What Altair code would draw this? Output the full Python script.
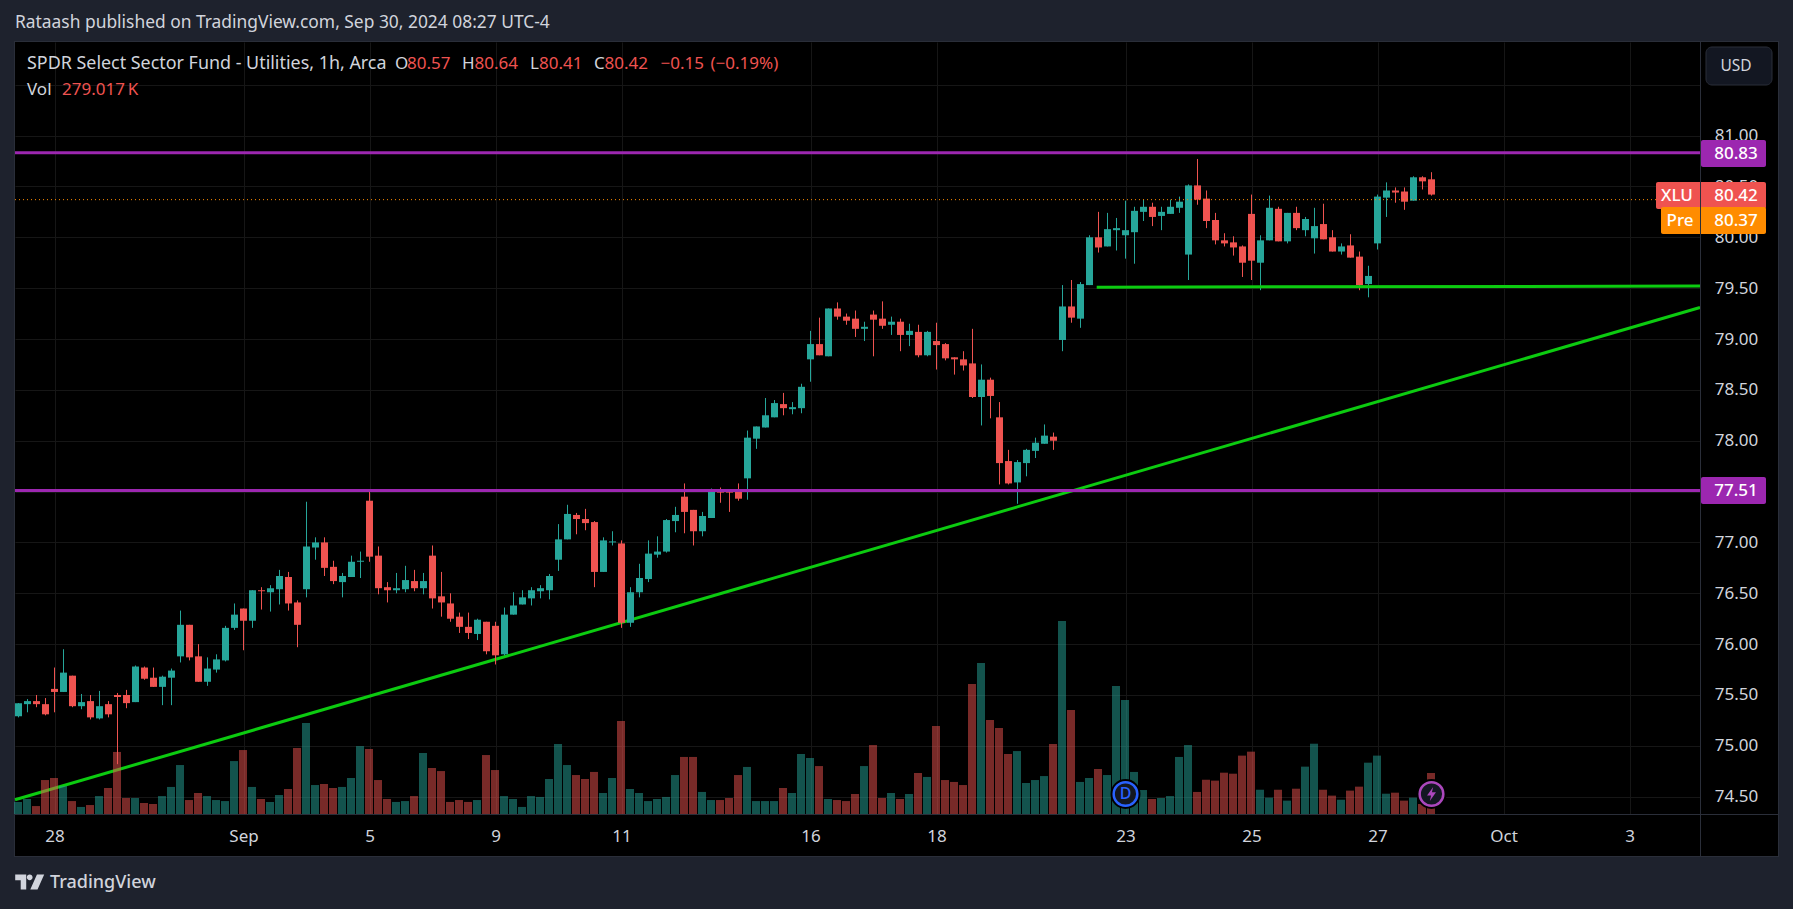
import altair as alt
import pandas as pd

opens = [75.29,75.41,75.44,75.41,75.56,75.53,75.69,75.39,75.44,75.27,
75.41,75.50,75.50,75.43,75.77,75.67,75.58,75.67,75.88,76.19,
75.88,75.63,75.75,75.84,76.16,76.35,76.23,76.53,76.51,76.54,
76.66,76.41,76.54,76.95,77.00,76.76,76.61,76.66,76.81,77.41,
76.87,76.56,76.53,76.54,76.62,76.55,76.87,76.47,76.40,76.27,
76.17,76.10,76.22,76.18,75.90,76.29,76.39,76.45,76.52,76.53,
76.83,77.03,77.27,77.23,77.20,76.71,77.00,76.99,76.21,76.51,
76.64,76.88,76.91,77.21,77.45,77.32,77.11,77.24,77.50,77.50,
77.51,77.63,78.02,78.13,78.23,78.36,78.31,78.32,78.80,78.95,
78.83,79.30,79.22,79.20,79.10,79.24,79.20,79.14,79.17,79.04,
79.07,78.84,78.98,78.95,78.82,78.80,78.76,78.43,78.60,78.23,
77.80,77.59,77.78,77.90,77.97,78.04,78.99,79.32,79.20,79.53,
80.00,79.91,80.07,80.02,80.05,80.25,80.30,80.21,80.23,80.29,
79.83,80.51,80.38,80.17,79.97,79.95,79.91,80.23,79.75,79.97,
80.28,79.96,80.24,80.07,79.99,80.13,80.00,79.86,79.92,79.81,
79.54,79.94,80.39,80.46,80.45,80.36,80.59,80.57]

closes = [75.42,75.44,75.41,75.31,75.53,75.72,75.39,75.43,75.28,75.39,
75.31,75.48,75.42,75.78,75.66,75.58,75.68,75.74,76.19,75.87,
75.63,75.76,75.85,76.16,76.29,76.23,76.53,76.52,76.55,76.67,
76.40,76.19,76.96,77.00,76.75,76.62,76.67,76.81,76.82,76.86,
76.55,76.53,76.55,76.63,76.55,76.62,76.45,76.41,76.25,76.17,
76.11,76.24,75.93,75.89,76.29,76.38,76.46,76.53,76.55,76.67,
77.03,77.28,77.23,77.19,76.71,77.02,77.01,76.21,76.51,76.65,
76.89,76.91,77.22,77.27,77.30,77.11,77.26,77.50,77.49,77.49,
77.43,78.03,78.14,78.25,78.37,78.32,78.33,78.53,78.95,78.84,
79.30,79.22,79.18,79.10,79.12,79.19,79.13,79.17,79.04,79.08,
78.84,79.07,78.94,78.81,78.80,78.74,78.43,78.60,78.44,77.78,
77.58,77.79,77.91,77.98,78.05,78.00,79.32,79.21,79.54,80.00,
79.90,80.08,80.09,80.07,80.26,80.30,80.20,80.25,80.30,80.35,
80.51,80.37,80.16,79.97,79.94,79.90,79.75,79.77,79.97,80.29,
79.96,80.24,80.09,80.18,80.11,79.98,79.86,79.91,79.80,79.53,
79.62,80.40,80.46,80.44,80.35,80.59,80.55,80.42]

highs = [75.42,75.46,75.50,75.47,75.77,75.95,75.69,75.51,75.50,75.54,
75.44,75.52,75.55,75.79,75.78,75.77,75.69,75.76,76.33,76.19,
76.00,75.87,75.90,76.18,76.40,76.35,76.53,76.56,76.58,76.73,
76.71,76.43,77.40,77.05,77.05,76.82,76.70,76.87,76.91,77.51,
76.96,76.61,76.70,76.77,76.73,76.70,76.97,76.71,76.50,76.31,
76.31,76.25,76.22,76.22,76.36,76.51,76.53,76.56,76.58,76.69,
77.18,77.37,77.29,77.33,77.21,77.05,77.11,77.02,76.56,76.79,
77.02,77.06,77.23,77.35,77.58,77.32,77.30,77.53,77.54,77.51,
77.58,78.10,78.14,78.42,78.40,78.47,78.38,78.56,79.08,79.21,
79.30,79.36,79.25,79.28,79.17,79.28,79.37,79.22,79.20,79.15,
79.14,79.08,79.16,78.96,78.82,78.88,79.10,78.75,78.62,78.38,
77.91,77.81,77.92,78.03,78.16,78.08,79.53,79.58,79.56,80.02,
80.25,80.24,80.19,80.36,80.30,80.37,80.34,80.30,80.37,80.40,
80.52,80.77,80.46,80.24,80.04,80.01,79.92,80.42,80.02,80.41,
80.30,80.24,80.30,80.20,80.29,80.33,80.07,79.94,80.03,79.86,
79.72,80.42,80.54,80.49,80.49,80.60,80.60,80.64]

lows = [75.28,75.33,75.38,75.30,75.33,75.53,75.38,75.36,75.26,75.26,
75.28,74.82,75.37,75.43,75.65,75.58,75.40,75.40,75.82,75.84,
75.63,75.59,75.72,75.83,76.14,75.94,76.16,76.34,76.32,76.39,
76.33,75.97,76.46,76.83,76.67,76.59,76.46,76.66,76.65,76.81,
76.49,76.41,76.50,76.51,76.52,76.49,76.35,76.27,76.22,76.11,
76.05,76.04,75.90,75.80,75.89,76.29,76.39,76.38,76.45,76.44,
76.72,77.03,77.08,77.12,76.56,76.71,76.97,76.16,76.17,76.46,
76.61,76.85,76.90,77.10,77.09,76.97,77.06,77.24,77.39,77.30,
77.41,77.42,77.92,78.13,78.23,78.25,78.26,78.27,78.58,78.84,
78.83,79.19,79.14,79.02,78.98,78.83,79.10,79.04,78.88,78.93,
78.82,78.83,78.70,78.79,78.65,78.69,78.42,78.15,78.22,77.57,
77.57,77.38,77.65,77.83,77.97,77.91,78.88,79.16,79.11,79.53,
79.85,79.91,79.87,79.79,79.74,80.16,80.11,80.07,80.23,80.24,
79.58,80.32,80.09,79.93,79.91,79.82,79.61,79.58,79.48,79.97,
79.96,79.94,80.07,80.01,79.84,79.98,79.86,79.83,79.80,79.48,
79.41,79.88,80.20,80.34,80.27,80.36,80.47,80.41]

volumes_k = [82,102,54,231,245,190,88,48,61,122,
177,422,109,109,75,68,122,184,333,95,
143,122,95,88,360,435,184,102,82,129,
170,449,619,197,204,177,184,245,462,442,
231,102,82,88,122,415,313,292,82,95,
82,95,401,299,122,102,48,122,116,238,
476,333,265,238,286,143,245,632,170,143,
88,102,116,265,388,388,150,95,95,109,
265,320,88,88,88,177,143,408,381,326,
102,95,88,136,326,469,109,143,102,136,
279,252,598,231,218,197,884,1027,639,585,
408,428,211,231,258,476,1312,707,218,245,
306,265,870,775,286,163,102,109,122,388,
469,150,233,227,281,274,397,424,165,111,
165,91,172,322,478,165,125,97,159,186,
349,397,138,145,91,111,68,279]

price_ticks = [74.5,75.0,75.5,76.0,76.5,77.0,77.5,78.0,78.5,79.0,79.5,80.0,80.5,81.0,81.5]
date_ticks = [4,25,39,53,67,88,102,123,137,151,165,179]
date_labels = ["28","Sep","5","9","11","16","18","23","25","27","Oct","3"]
resistance_levels = [80.83,77.51]
premarket_level = [80.37]
trend_bars = [-0.389,186.833]
trend_prices = [74.47,79.31]
support_bars = [119.8,186.833]
support_prices = [79.51,79.52]

X_DOM = [-0.3889,186.8333]
Y_DOM = [74.33,81.92]
VOL_DOM = [0,5250]
FONT = "Noto Sans"
TEXT = "#d1d4dc"
RED = "#ef5350"
TEAL = "#26a69a"
PURPLE = "#9c27b0"
GREEN = "#0ccb10"
ORANGE = "#ff8c00"
PANEL = "#1e222d"
EDGE = "#2a2e39"
GRID = "#161616"
L, T = 15, 42

df = pd.DataFrame({"bar":range(len(opens)),"open":opens,"high":highs,"low":lows,"close":closes,"volume":volumes_k})
df["dir"] = ["up" if c>=o else "down" for o,c in zip(opens,closes)]
df["top"] = df[["open","close"]].max(axis=1)
df["bot"] = df[["open","close"]].min(axis=1)

xs = alt.Scale(domain=X_DOM,nice=False,zero=False,padding=0)
ys = alt.Scale(domain=Y_DOM,nice=False,zero=False)
vs = alt.Scale(domain=VOL_DOM,nice=False,zero=False)
one = pd.DataFrame({"a":[0]})
label_expr = f"{date_labels}[indexof({date_ticks},datum.value)]"
x_axis = alt.Axis(values=date_ticks,labelExpr=label_expr,grid=True,gridColor=GRID,
        domain=False,ticks=False,labelColor=TEXT,labelFont=FONT,labelFontSize=17,labelPadding=22,labelBaseline="middle",
        labelOverlap=False,labelFlush=False,labelBound=False,title=None)
xn = alt.X("bar:Q",scale=xs,axis=x_axis)
col = alt.Color("dir:N",scale=alt.Scale(domain=["up","down"],range=[TEAL,RED]),legend=None)

def rect(x1,y1,x2,y2,fill,**kw):
    return alt.Chart(one).mark_rect(fill=fill,**kw).encode(
        x=alt.value(x1-L),x2=alt.value(x2-L),y=alt.value(y1-T),y2=alt.value(y2-T))

def text(x,y,s,color=TEXT,size=17,align="left",weight=400):
    return alt.Chart(one).mark_text(text=s,color=color,fontSize=size,align=align,baseline="middle",font=FONT,fontWeight=weight).encode(
        x=alt.value(x-L),y=alt.value(y-T))

def glyph(x,y,shape,size,color):
    return alt.Chart(one).mark_point(shape=shape,size=size,filled=True,fill=color,opacity=1).encode(
        x=alt.value(x-L),y=alt.value(y-T))

def ring(x,y,size,fill,stroke,sw):
    return alt.Chart(one).mark_circle(size=size,fill=fill,stroke=stroke,strokeWidth=sw,opacity=1).encode(
        x=alt.value(x-L),y=alt.value(y-T))

trend_df = pd.DataFrame({"bar":trend_bars,"price":trend_prices})
trend = alt.Chart(trend_df).mark_line(color=GREEN,strokeWidth=3).encode(
    x=xn,
    y=alt.Y("price:Q",scale=ys,axis=alt.Axis(orient="right",values=price_ticks,format=".2f",grid=True,gridColor=GRID,
        domain=False,ticks=False,labelColor=TEXT,labelFont=FONT,labelFontSize=17,labelPadding=36,labelAlign="center",
        labelBaseline="middle",labelOverlap=False,labelFlush=False,labelBound=False,title=None)))

volume = alt.Chart(df).mark_bar(size=8,opacity=0.5,orient="vertical",xOffset=-0.5).encode(
    x=xn,y=alt.Y("volume:Q",scale=vs,axis=None),color=col)
wicks = alt.Chart(df).mark_rule(strokeWidth=1).encode(
    x=xn,y=alt.Y("low:Q",scale=ys,axis=None),y2="high:Q",color=col)
bodies = alt.Chart(df).mark_bar(size=7,orient="vertical",opacity=1).encode(
    x=xn,y=alt.Y("bot:Q",scale=ys,axis=None),y2="top:Q",color=col)
levels = alt.Chart(pd.DataFrame({"price":resistance_levels})).mark_rule(color=PURPLE,strokeWidth=3).encode(
    y=alt.Y("price:Q",scale=ys,axis=None))
support_df = pd.DataFrame({"bar":support_bars,"price":support_prices})
support = alt.Chart(support_df).mark_line(color=GREEN,strokeWidth=3).encode(
    x=xn,y=alt.Y("price:Q",scale=ys,axis=None))
premarket = alt.Chart(pd.DataFrame({"price":premarket_level})).mark_rule(color=ORANGE,strokeWidth=1,strokeDash=[1,3]).encode(
    y=alt.Y("price:Q",scale=ys,axis=None))

LOGO = "M-0.5,-0.26H-0.12V0.26H-0.31V-0.06H-0.5Z M-0.1,-0.16A0.1,0.1,0,1,1,0.1,-0.16A0.1,0.1,0,1,1,-0.1,-0.16Z M0.5,-0.26L0.27,0.26H0.02L0.25,-0.26Z"
BOLT = "M0.12,-0.5L-0.32,0.1H-0.03L-0.12,0.5L0.32,-0.12H0.03Z"

layers = [
    rect(0,0,1793,41,PANEL), rect(0,0,14,909,PANEL), rect(1779,0,1793,909,PANEL), rect(0,857,1793,909,PANEL),
    rect(14,41,1779,42,EDGE), rect(14,41,15,857,EDGE), rect(1778,41,1779,857,EDGE), rect(14,856,1779,857,EDGE),
    trend, volume, wicks, bodies, levels, support, premarket,
    rect(1700,42,1701,856,EDGE), rect(15,814,1778,815,EDGE),
    rect(1701,43,1778,91,"#000000"),
    alt.Chart(one).mark_rect(fill="#131722",stroke=EDGE,strokeWidth=1,cornerRadius=6).encode(
        x=alt.value(1706-L),x2=alt.value(1772-L),y=alt.value(47-T),y2=alt.value(85-T)),
    text(1736,66,"USD",align="center",size=15.5),
    rect(1701,140,1766,167,PURPLE,cornerRadius=2), text(1736,153.5,"80.83","#ffffff",17,"center",500),
    rect(1656,182,1766,209,RED,cornerRadius=2), text(1677,195.5,"XLU","#ffffff",17,"center",500), text(1736,195.5,"80.42","#ffffff",17,"center",500),
    rect(1661,207,1766,234,ORANGE,cornerRadius=2), text(1680,220.5,"Pre","#ffffff",17,"center",500), text(1736,220.5,"80.37","#ffffff",17,"center",500),
    rect(1701,477,1766,504,PURPLE,cornerRadius=2), text(1736,490.5,"77.51","#ffffff",17,"center",500),
    rect(1700,140,1701,167,EDGE), rect(1700,182,1701,234,EDGE), rect(1700,477,1701,504,EDGE),
    text(15,23,"Rataash published on TradingView.com, Sep 30, 2024 08:27 UTC-4",size=17.4),
    text(27,63.5,"SPDR Select Sector Fund - Utilities, 1h, Arca",size=17.9),
    text(395,63.5,"O"), text(407,63.5,"80.57",RED),
    text(462,63.5,"H"), text(474.5,63.5,"80.64",RED),
    text(530,63.5,"L"), text(539,63.5,"80.41",RED),
    text(594,63.5,"C"), text(604.5,63.5,"80.42",RED),
    text(660.5,63.5,"\u22120.15",RED), text(710.5,63.5,"(\u22120.19%)",RED),
    text(27,90,"Vol"), text(62,90,"279.017\u2009K",RED),
    ring(1125.5,794,900,"#000000","#000000",0),
    ring(1125.5,794,560,"#131722","#2962ff",2.5), text(1125.5,794,"D","#2962ff",16,"center",500),
    ring(1431.5,794,900,"#000000","#000000",0),
    ring(1431.5,794,560,"#131722","#ab47bc",2.5), glyph(1431.5,794,BOLT,784,"#ab47bc"),
    glyph(29.7,882,LOGO,3364,TEXT),
    text(50,883,"TradingView",size=18,weight=500),
]

chart = alt.layer(*layers).resolve_scale(y="independent").properties(
    width=1685,height=772,
    padding={"left":15,"top":42,"right":93,"bottom":95},
    autosize=alt.AutoSizeParams(type="none"),
    background="#000000",
).configure_view(strokeWidth=0)

chart.save("out.html", embed_options={"renderer": "svg", "actions": False, "defaultStyle": "html,body{margin:0;padding:0;background:#1e222d;overflow:hidden}"})
